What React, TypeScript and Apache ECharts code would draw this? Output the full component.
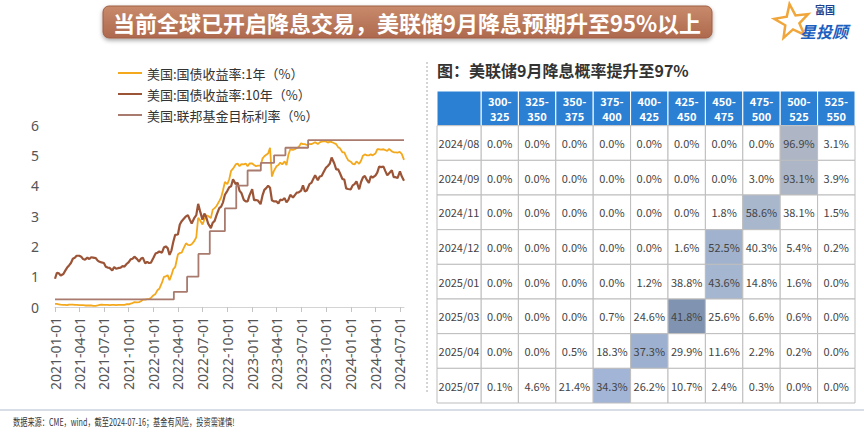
import React, { useEffect, useRef } from 'react';
import * as echarts from 'echarts';

// ---------- line chart data ----------
const DATES = (
  '2021-01-01 2021-01-08 2021-01-15 2021-01-22 2021-02-01 2021-02-08 2021-02-15 2021-02-22 ' +
  '2021-03-01 2021-03-08 2021-03-15 2021-03-22 2021-04-01 2021-04-08 2021-04-15 2021-04-22 ' +
  '2021-05-01 2021-05-08 2021-05-15 2021-05-22 2021-06-01 2021-06-08 2021-06-15 2021-06-22 ' +
  '2021-07-01 2021-07-08 2021-07-15 2021-07-22 2021-08-01 2021-08-08 2021-08-15 2021-08-22 ' +
  '2021-09-01 2021-09-08 2021-09-15 2021-09-22 2021-10-01 2021-10-08 2021-10-15 2021-10-22 ' +
  '2021-11-01 2021-11-08 2021-11-15 2021-11-22 2021-12-01 2021-12-08 2021-12-15 2021-12-22 ' +
  '2022-01-01 2022-01-08 2022-01-15 2022-01-22 2022-02-01 2022-02-08 2022-02-15 2022-02-22 ' +
  '2022-03-01 2022-03-08 2022-03-15 2022-03-22 2022-04-01 2022-04-08 2022-04-15 2022-04-22 ' +
  '2022-05-01 2022-05-08 2022-05-15 2022-05-22 2022-06-01 2022-06-08 2022-06-15 2022-06-22 ' +
  '2022-07-01 2022-07-08 2022-07-15 2022-07-22 2022-08-01 2022-08-08 2022-08-15 2022-08-22 ' +
  '2022-09-01 2022-09-08 2022-09-15 2022-09-22 2022-10-01 2022-10-08 2022-10-15 2022-10-22 ' +
  '2022-11-01 2022-11-08 2022-11-15 2022-11-22 2022-12-01 2022-12-08 2022-12-15 2022-12-22 ' +
  '2023-01-01 2023-01-08 2023-01-15 2023-01-22 2023-02-01 2023-02-08 2023-02-15 2023-02-22 ' +
  '2023-03-01 2023-03-08 2023-03-15 2023-03-22 2023-04-01 2023-04-08 2023-04-15 2023-04-22 ' +
  '2023-05-01 2023-05-08 2023-05-15 2023-05-22 2023-06-01 2023-06-08 2023-06-15 2023-06-22 ' +
  '2023-07-01 2023-07-08 2023-07-15 2023-07-22 2023-08-01 2023-08-08 2023-08-15 2023-08-22 ' +
  '2023-09-01 2023-09-08 2023-09-15 2023-09-22 2023-10-01 2023-10-08 2023-10-15 2023-10-22 ' +
  '2023-11-01 2023-11-08 2023-11-15 2023-11-22 2023-12-01 2023-12-08 2023-12-15 2023-12-22 ' +
  '2024-01-01 2024-01-08 2024-01-15 2024-01-22 2024-02-01 2024-02-08 2024-02-15 2024-02-22 ' +
  '2024-03-01 2024-03-08 2024-03-15 2024-03-22 2024-04-01 2024-04-08 2024-04-15 2024-04-22 ' +
  '2024-05-01 2024-05-08 2024-05-15 2024-05-22 2024-06-01 2024-06-08 2024-06-15 2024-06-22 ' +
  '2024-07-01 2024-07-08 2024-07-16'
).split(' ');

const YIELD_1Y = [
  0.10, 0.10, 0.09, 0.08, 0.07, 0.07, 0.06, 0.08, 0.08, 0.08, 0.07, 0.07,
  0.06, 0.06, 0.06, 0.05, 0.05, 0.05, 0.05, 0.04, 0.04, 0.05, 0.07, 0.08,
  0.07, 0.07, 0.07, 0.06, 0.07, 0.07, 0.06, 0.07, 0.07, 0.07, 0.07, 0.09,
  0.09, 0.11, 0.13, 0.16, 0.15, 0.16, 0.19, 0.24, 0.24, 0.26, 0.26, 0.30,
  0.39, 0.43, 0.55, 0.60, 0.80, 0.99, 1.01, 1.05, 0.88, 1.05, 1.25, 1.32,
  1.73, 1.78, 1.79, 1.93, 2.10, 2.05, 2.04, 2.07, 2.18, 2.30, 2.94, 2.86,
  2.72, 2.88, 3.02, 3.00, 2.93, 3.21, 3.26, 3.33, 3.49, 3.61, 3.85, 4.12,
  4.05, 4.21, 4.49, 4.56, 4.70, 4.73, 4.64, 4.71, 4.70, 4.73, 4.64, 4.73,
  4.73, 4.68, 4.64, 4.66, 4.66, 4.89, 4.97, 5.02, 5.06, 5.25, 4.30, 4.48,
  4.64, 4.68, 4.76, 4.70, 4.80, 4.68, 5.02, 5.20, 5.18, 5.20, 5.24, 5.27,
  5.40, 5.37, 5.37, 5.34, 5.38, 5.37, 5.40, 5.43, 5.37, 5.43, 5.45, 5.46,
  5.46, 5.42, 5.45, 5.44, 5.40, 5.37, 5.27, 5.23, 5.10, 5.10, 4.96, 4.84,
  4.79, 4.72, 4.70, 4.80, 4.72, 4.82, 4.99, 5.03, 5.00, 5.00, 5.03, 5.00,
  5.06, 5.20, 5.20, 5.19, 5.20, 5.17, 5.15, 5.21, 5.13, 5.10, 5.10, 5.09,
  5.11, 5.04, 4.85,
];

const YIELD_10Y = [
  0.93, 1.13, 1.11, 1.04, 1.09, 1.20, 1.30, 1.37, 1.45, 1.59, 1.62, 1.69,
  1.69, 1.66, 1.58, 1.56, 1.63, 1.58, 1.64, 1.63, 1.61, 1.53, 1.49, 1.47,
  1.45, 1.33, 1.30, 1.29, 1.20, 1.32, 1.26, 1.28, 1.30, 1.35, 1.33, 1.41,
  1.48, 1.57, 1.59, 1.66, 1.58, 1.50, 1.59, 1.63, 1.44, 1.49, 1.45, 1.46,
  1.63, 1.76, 1.79, 1.83, 1.79, 1.96, 2.00, 1.94, 1.72, 1.86, 2.15, 2.38,
  2.39, 2.72, 2.83, 2.90, 2.99, 3.03, 2.88, 2.75, 2.94, 3.03, 3.40, 3.16,
  2.88, 3.08, 2.96, 2.75, 2.60, 2.78, 2.84, 3.03, 3.26, 3.31, 3.45, 3.70,
  3.83, 3.95, 3.98, 4.21, 4.05, 4.10, 3.83, 3.76, 3.53, 3.48, 3.48, 3.68,
  3.88, 3.52, 3.53, 3.51, 3.39, 3.67, 3.86, 3.92, 4.00, 3.93, 3.52, 3.48,
  3.48, 3.41, 3.54, 3.52, 3.59, 3.45, 3.53, 3.70, 3.61, 3.69, 3.77, 3.78,
  3.84, 4.01, 3.81, 3.84, 4.05, 4.09, 4.22, 4.34, 4.18, 4.30, 4.32, 4.44,
  4.59, 4.65, 4.72, 4.93, 4.73, 4.54, 4.54, 4.41, 4.22, 4.20, 3.91, 3.89,
  3.88, 4.01, 4.05, 4.14, 3.88, 4.12, 4.27, 4.32, 4.18, 4.09, 4.31, 4.27,
  4.33, 4.43, 4.63, 4.61, 4.63, 4.48, 4.34, 4.41, 4.51, 4.28, 4.28, 4.25,
  4.47, 4.30, 4.16,
];

const FFR_DATES = [
  '2021-01-01', '2022-03-17', '2022-05-05', '2022-06-16', '2022-07-28', '2022-09-22',
  '2022-11-03', '2022-12-15', '2023-02-02', '2023-03-23', '2023-05-04', '2023-07-27', '2024-07-16',
];
const FFR_VALUES = [0.25, 0.5, 1.0, 1.75, 2.5, 3.25, 4.0, 4.5, 4.75, 5.0, 5.25, 5.5, 5.5];

const QUARTER_TICKS = [
  '2021-01-01', '2021-04-01', '2021-07-01', '2021-10-01', '2022-01-01', '2022-04-01', '2022-07-01',
  '2022-10-01', '2023-01-01', '2023-04-01', '2023-07-01', '2023-10-01', '2024-01-01', '2024-04-01', '2024-07-01',
];
const X_START = '2021-01-01';
const X_END = '2024-07-16';

const SERIES_NAMES = ['美国:国债收益率:1年（%）', '美国:国债收益率:10年（%）', '美国:联邦基金目标利率（%）'];

// ---------- table data ----------
const BUCKETS = ['300-325', '325-350', '350-375', '375-400', '400-425', '425-450', '450-475', '475-500', '500-525', '525-550'];
const MEETINGS = ['2024/08', '2024/09', '2024/11', '2024/12', '2025/01', '2025/03', '2025/04', '2025/07'];
const PROB_2024_08 = [0.0, 0.0, 0.0, 0.0, 0.0, 0.0, 0.0, 0.0, 96.9, 3.1];
const PROB_2024_09 = [0.0, 0.0, 0.0, 0.0, 0.0, 0.0, 0.0, 3.0, 93.1, 3.9];
const PROB_2024_11 = [0.0, 0.0, 0.0, 0.0, 0.0, 0.0, 1.8, 58.6, 38.1, 1.5];
const PROB_2024_12 = [0.0, 0.0, 0.0, 0.0, 0.0, 1.6, 52.5, 40.3, 5.4, 0.2];
const PROB_2025_01 = [0.0, 0.0, 0.0, 0.0, 1.2, 38.8, 43.6, 14.8, 1.6, 0.0];
const PROB_2025_03 = [0.0, 0.0, 0.0, 0.7, 24.6, 41.8, 25.6, 6.6, 0.6, 0.0];
const PROB_2025_04 = [0.0, 0.0, 0.5, 18.3, 37.3, 29.9, 11.6, 2.2, 0.2, 0.0];
const PROB_2025_07 = [0.1, 4.6, 21.4, 34.3, 26.2, 10.7, 2.4, 0.3, 0.0, 0.0];
const PROBS = [PROB_2024_08, PROB_2024_09, PROB_2024_11, PROB_2024_12, PROB_2025_01, PROB_2025_03, PROB_2025_04, PROB_2025_07];

// ---------- styles ----------
const HIGHLIGHT = ['#AEB6C6', '#ADB6C6', '#A9B7CD', '#A0B2CD', '#A5B6D0', '#8094B2', '#9DB0CF', '#A2B5D6'];
const HEADER_BLUE = '#2B80D3';
const GRID_GRAY = '#BDBDBD';
const CJK = '"Noto Sans CJK SC", "Noto Sans", sans-serif';

function ts(s: string): number {
  const [y, m, d] = s.split('-').map(Number);
  return Date.UTC(y, m - 1, d);
}
function fmtDate(v: number): string {
  const d = new Date(v);
  const p = (n: number) => (n < 10 ? '0' + n : '' + n);
  return d.getUTCFullYear() + '-' + p(d.getUTCMonth() + 1) + '-' + p(d.getUTCDate());
}

type Cell = { fill: string; stroke: string; lines: string[]; color: string; bold: boolean };

function tableSeries(xAxisIndex: number, yAxisIndex: number, data: number[][], cells: Cell[]) {
  return {
    type: 'custom',
    xAxisIndex,
    yAxisIndex,
    data,
    encode: { x: 0, y: 1 },
    silent: true,
    renderItem: (params: any, api: any) => {
      const c = api.coord([api.value(0), api.value(1)]);
      const s = api.size([1, 1]);
      const cell = cells[params.dataIndex];
      const n = cell.lines.length;
      const texts = cell.lines.map((t, i) => ({
        type: 'text',
        x: c[0],
        y: c[1] + (i - (n - 1) / 2) * 15,
        style: {
          text: t,
          fill: cell.color,
          fontSize: 11,
          fontWeight: cell.bold ? 'bold' : 'normal',
          fontFamily: CJK,
          align: 'center',
          verticalAlign: 'middle',
        },
      }));
      return {
        type: 'group',
        children: [
          {
            type: 'rect',
            shape: { x: c[0] - s[0] / 2, y: c[1] - s[1] / 2, width: s[0], height: s[1] },
            style: { fill: cell.fill, stroke: cell.stroke, lineWidth: 1 },
          },
          ...texts,
        ],
      };
    },
  };
}

function buildOption() {
  const rows = ['', ...MEETINGS];
  const y1 = DATES.map((d, i) => [ts(d), YIELD_1Y[i]]);
  const y10 = DATES.map((d, i) => [ts(d), YIELD_10Y[i]]);
  const ffr = FFR_DATES.map((d, i) => [ts(d), FFR_VALUES[i]]);
  const ticks = QUARTER_TICKS.map(ts);

  const probData: number[][] = [];
  const probCells: Cell[] = [];
  BUCKETS.forEach((b, x) => {
    const [lo, hi] = b.split('-');
    probData.push([x, 0, 0]);
    probCells.push({ fill: HEADER_BLUE, stroke: '#ffffff', lines: [lo + '-', hi], color: '#ffffff', bold: true });
  });
  PROBS.forEach((row, r) => {
    const max = Math.max(...row);
    row.forEach((v, x) => {
      probData.push([x, r + 1, v]);
      probCells.push({ fill: v === max ? HIGHLIGHT[r] : '#ffffff', stroke: GRID_GRAY, lines: [v.toFixed(1) + '%'], color: '#444', bold: false });
    });
  });
  const labelData: number[][] = rows.map((_, r) => [0, r, 0]);
  const labelCells: Cell[] = rows.map((m, r) =>
    r === 0
      ? { fill: HEADER_BLUE, stroke: '#ffffff', lines: [], color: '#fff', bold: true }
      : { fill: '#ffffff', stroke: GRID_GRAY, lines: [m], color: '#444', bold: false }
  );

  const star: number[][] = [];
  for (let k = 0; k < 10; k++) {
    const a = (-90 + k * 36 - 8) * Math.PI / 180;
    const rr = k % 2 === 0 ? 18 : 7.5;
    star.push([792 + rr * Math.cos(a), 22 + rr * Math.sin(a)]);
  }

  return {
    animation: false,
    backgroundColor: '#ffffff',
    textStyle: { fontFamily: CJK },
    legend: {
      data: SERIES_NAMES,
      orient: 'vertical',
      left: 113,
      top: 61,
      itemWidth: 24,
      itemHeight: 2,
      itemGap: 7,
      icon: 'rect',
      textStyle: { fontSize: 13, color: '#333', lineHeight: 14, fontFamily: CJK },
    },
    grid: [
      { left: 55, top: 125, width: 349, height: 182 },
      { left: 437, top: 91, width: 44, height: 312 },
      { left: 481, top: 91, width: 374, height: 312 },
    ],
    xAxis: [
      {
        type: 'value',
        gridIndex: 0,
        min: ts(X_START),
        max: ts(X_END),
        axisLine: { lineStyle: { color: '#d4d4d4' } },
        axisTick: { show: true, customValues: ticks, length: 5, lineStyle: { color: '#c4c4c4' } },
        axisLabel: {
          customValues: ticks,
          rotate: 90,
          margin: 10,
          fontSize: 14,
          color: '#555',
          fontFamily: '"Noto Sans", sans-serif',
          formatter: (v: number) => fmtDate(v),
        },
        splitLine: { show: false },
      },
      { type: 'category', gridIndex: 1, data: ['c'], show: false },
      { type: 'category', gridIndex: 2, data: BUCKETS, show: false },
    ],
    yAxis: [
      {
        type: 'value',
        gridIndex: 0,
        min: 0,
        max: 6,
        interval: 1,
        axisLabel: { fontSize: 14, color: '#555', margin: 16, fontFamily: '"Noto Sans", sans-serif' },
        axisLine: { show: false },
        axisTick: { show: false },
        splitLine: { show: false },
      },
      { type: 'category', gridIndex: 1, data: rows, inverse: true, show: false },
      { type: 'category', gridIndex: 2, data: rows, inverse: true, show: false },
    ],
    series: [
      {
        name: SERIES_NAMES[0], type: 'line', xAxisIndex: 0, yAxisIndex: 0, data: y1,
        showSymbol: false, symbol: 'none', color: '#F4A81C', lineStyle: { width: 1.8, color: '#F4A81C' },
      },
      {
        name: SERIES_NAMES[1], type: 'line', xAxisIndex: 0, yAxisIndex: 0, data: y10,
        showSymbol: false, symbol: 'none', color: '#9C5436', lineStyle: { width: 2.2, color: '#9C5436' },
      },
      {
        name: SERIES_NAMES[2], type: 'line', xAxisIndex: 0, yAxisIndex: 0, data: ffr, step: 'end',
        showSymbol: false, symbol: 'none', color: '#A97A6E', lineStyle: { width: 1.8, color: '#A97A6E' },
      },
      tableSeries(2, 2, probData, probCells),
      tableSeries(1, 1, labelData, labelCells),
    ],
    graphic: [
      {
        type: 'rect',
        shape: { x: 103, y: 6, width: 609, height: 32, r: 6 },
        style: {
          fill: new echarts.graphic.LinearGradient(0, 0, 0, 1, [
            { offset: 0, color: '#C88A6C' },
            { offset: 1, color: '#AE694D' },
          ]),
          stroke: '#9F5E44',
          lineWidth: 1,
          shadowBlur: 4,
          shadowOffsetY: 2,
          shadowColor: 'rgba(0,0,0,0.35)',
        },
      },
      {
        type: 'text',
        x: 407, y: 22,
        style: {
          text: '当前全球已开启降息交易，美联储9月降息预期升至95%以上',
          fill: '#ffffff', fontSize: 22, fontWeight: 'bold', fontFamily: CJK,
          align: 'center', verticalAlign: 'middle',
        },
      },
      {
        type: 'polygon',
        shape: { points: star },
        style: { fill: 'none', stroke: '#F0A63A', lineWidth: 2.5 },
      },
      {
        type: 'text', x: 815, y: 9,
        style: { text: '富国', fill: '#1D3E8A', fontSize: 10, fontWeight: 'bold', fontFamily: CJK, verticalAlign: 'middle' },
      },
      {
        type: 'text', x: 800, y: 31,
        style: { text: '星投顾', fill: '#1D5FBF', fontSize: 16, fontWeight: 'bold', fontStyle: 'italic', fontFamily: CJK, verticalAlign: 'middle' },
      },
      {
        type: 'text', x: 437, y: 70,
        style: { text: '图：美联储9月降息概率提升至97%', fill: '#333', fontSize: 16, fontWeight: 'bold', fontFamily: CJK, verticalAlign: 'middle' },
      },
      {
        type: 'line',
        shape: { x1: 427, y1: 62, x2: 427, y2: 392 },
        style: { stroke: '#aaaaaa', lineWidth: 1, lineDash: [2, 2] },
      },
      {
        type: 'line',
        shape: { x1: 0, y1: 410, x2: 864, y2: 410 },
        style: { stroke: '#CCD2DD', lineWidth: 1.5 },
      },
      {
        type: 'text', x: 13, y: 422, scaleX: 0.72,
        style: { text: '数据来源：CME，wind，截至2024-07-16；基金有风险，投资需谨慎!', fill: '#333', fontSize: 10, fontFamily: CJK, verticalAlign: 'middle' },
      },
    ],
  };
}

export default function App() {
  const ref = useRef<HTMLDivElement>(null);
  useEffect(() => {
    const chart = echarts.init(ref.current as HTMLDivElement, null, { renderer: 'svg' });
    chart.setOption(buildOption() as any);
    return () => chart.dispose();
  }, []);
  return (
    <div
      ref={ref}
      style={{ position: 'fixed', left: 0, top: 0, width: 864, height: 437, background: '#fff' }}
    />
  );
}
